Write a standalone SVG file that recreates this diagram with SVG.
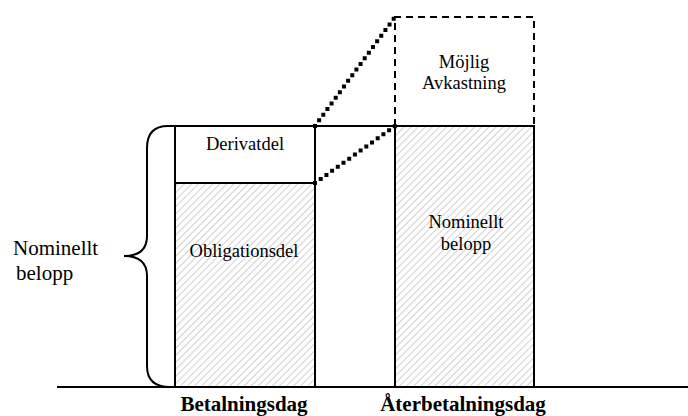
<svg xmlns="http://www.w3.org/2000/svg" width="688" height="416" viewBox="0 0 688 416">
<defs>
<pattern id="hatch" patternUnits="userSpaceOnUse" width="5" height="5" patternTransform="rotate(45)">
<rect width="5" height="5" fill="#ffffff"/>
<line x1="0" y1="0" x2="0" y2="5" stroke="#c4c4c4" stroke-width="1.6"/>
</pattern>
</defs>
<style>
text{font-family:'Liberation Serif','Times New Roman','DejaVu Serif',serif;fill:#000}
.t{font-size:18.5px}
.l{font-size:21px}
.b{font-size:21px;font-weight:bold}
.box{stroke:#000;stroke-width:2;fill:none}
.dot{stroke:#000;stroke-width:4;stroke-dasharray:0 7;stroke-linecap:square;fill:none}
</style>
<rect width="688" height="416" fill="#fff"/>
<g id="bond">
<rect x="175" y="183" width="140" height="204" fill="url(#hatch)"/>
<rect x="175" y="183" width="140" height="204" class="box"/>
<text x="244" y="257" class="t" text-anchor="middle">Obligationsdel</text>
</g>
<g id="derivative">
<rect x="175" y="126" width="140" height="57" fill="#fff" class="box"/>
<text x="245" y="150" class="t" text-anchor="middle">Derivatdel</text>
</g>
<g id="nominal">
<rect x="395" y="126" width="139" height="261" fill="url(#hatch)"/>
<rect x="395" y="126" width="139" height="261" class="box"/>
<text x="466" y="228" class="t" text-anchor="middle">Nominellt</text>
<text x="466" y="250" class="t" text-anchor="middle">belopp</text>
</g>
<g id="return">
<path d="M395,126 V17 H534 V126" fill="none" stroke="#000" stroke-width="2" stroke-dasharray="7,5"/>
<text x="464" y="68" class="t" text-anchor="middle">Möjlig</text>
<text x="464" y="89" class="t" text-anchor="middle">Avkastning</text>
</g>
<g id="brace-label">
<path d="M175,126 H168 Q147,126 147,148 V236 Q147,256 124,256 Q147,256 147,276 V366 Q147,387 170,387" fill="none" stroke="#000" stroke-width="2"/>
<text x="13" y="255" class="l">Nominellt</text>
<text x="16" y="280" class="l">belopp</text>
</g>
<g id="connectors">
<line x1="315" y1="126" x2="395" y2="126" stroke="#000" stroke-width="2"/>
<line x1="315" y1="126" x2="395" y2="17" class="dot"/>
<line x1="315" y1="183" x2="395" y2="126" class="dot"/>
<line x1="57" y1="387" x2="688" y2="387" stroke="#000" stroke-width="2"/>
</g>
<g id="axis-labels">
<text x="244" y="411" class="b" text-anchor="middle">Betalningsdag</text>
<text x="463" y="411" class="b" text-anchor="middle">Återbetalningsdag</text>
</g>
</svg>
